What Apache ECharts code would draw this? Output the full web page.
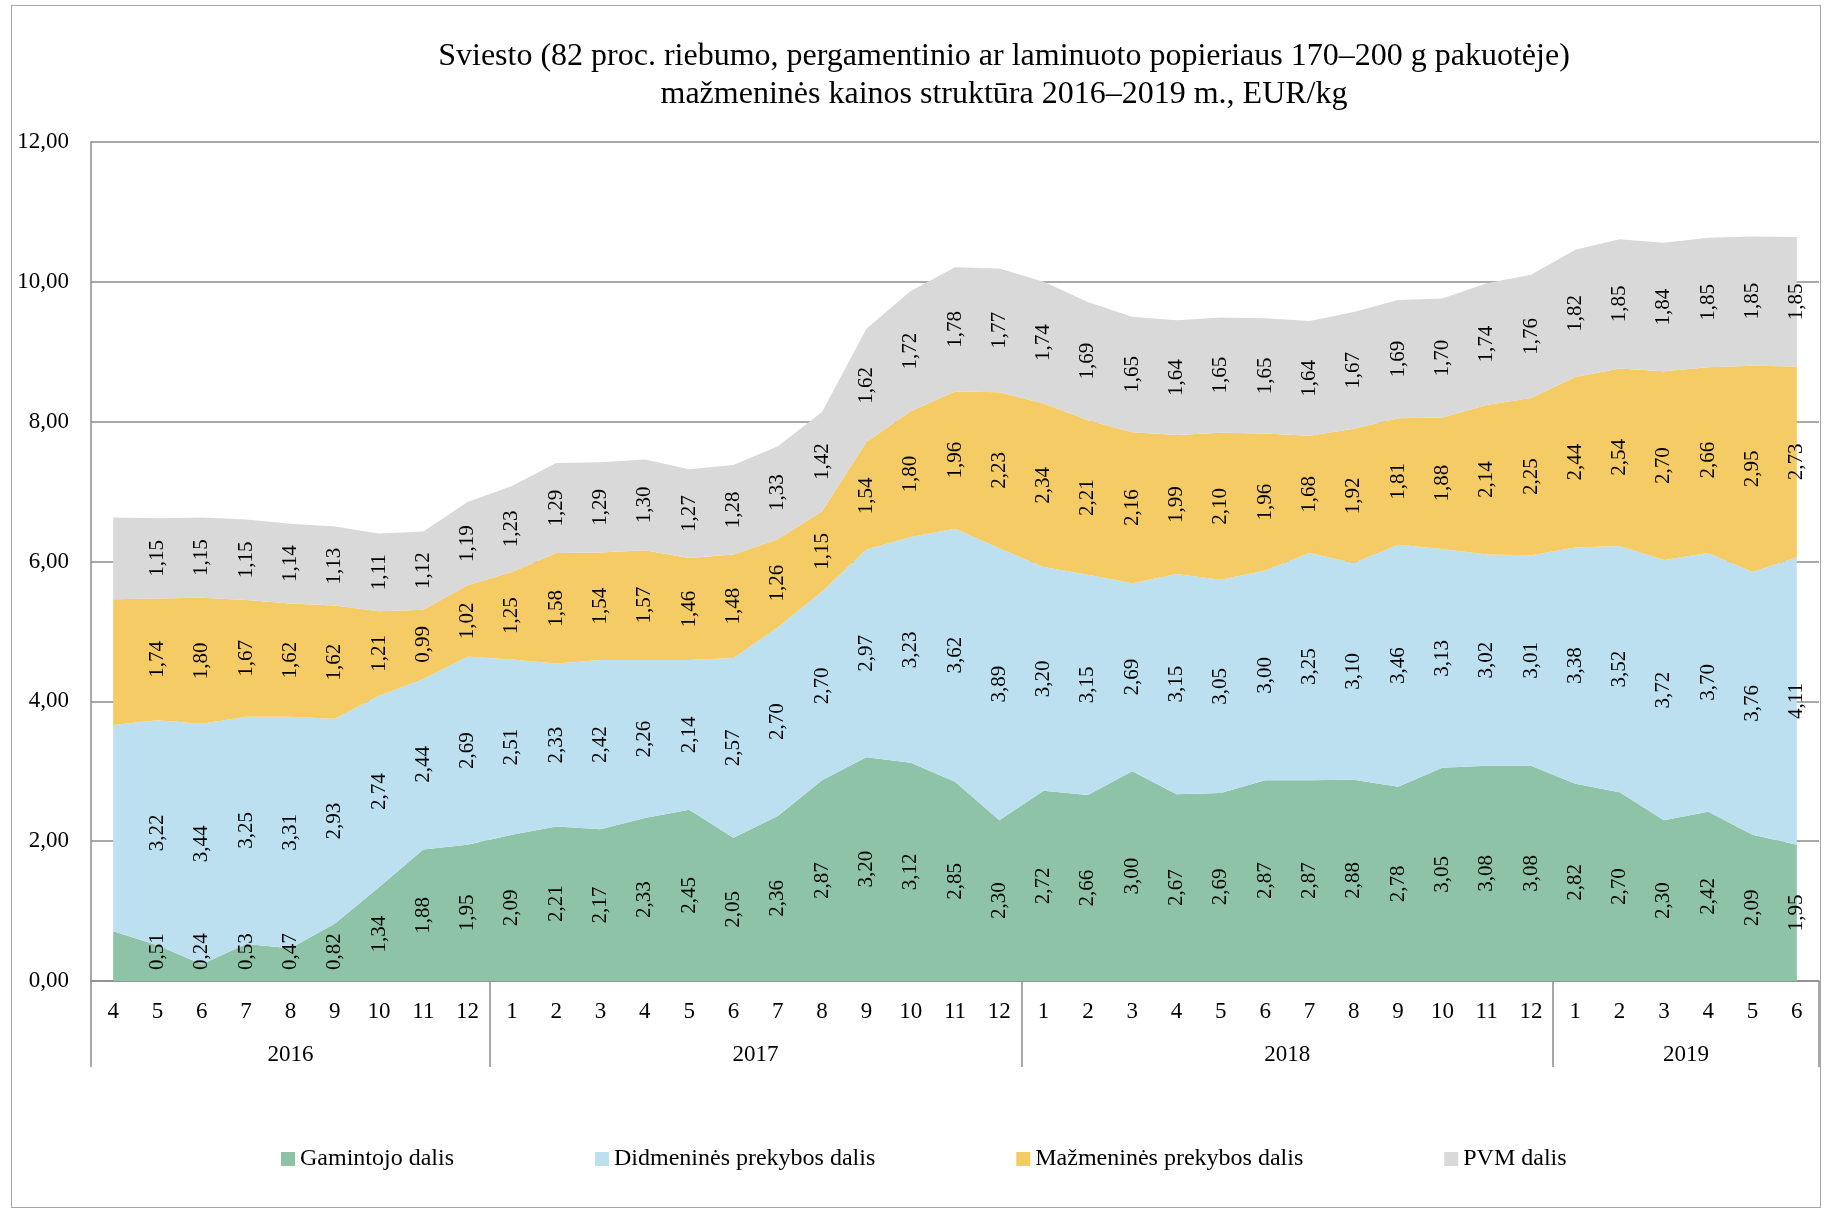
<!DOCTYPE html>
<html>
<head>
<meta charset="utf-8">
<title>Sviesto kainos struktūra</title>
<script src="https://cdn.jsdelivr.net/npm/echarts@6/dist/echarts.min.js"></script>
<style>
  html, body { margin: 0; padding: 0; background: #fff; }
  #chart { width: 1825px; height: 1208px; }
  .frame {
    position: absolute; left: 11px; top: 5px;
    width: 1808px; height: 1201px;
    border: 1px solid #a6a6a6; pointer-events: none;
  }
</style>
</head>
<body>
<div id="chart"></div>
<div class="frame"></div>
<script>
// metai ir jų mėnesiai (ašies žymės)
const years = ['2016', '2017', '2018', '2019'];
const monthsByYear = [
  ['4', '5', '6', '7', '8', '9', '10', '11', '12'],
  ['1', '2', '3', '4', '5', '6', '7', '8', '9', '10', '11', '12'],
  ['1', '2', '3', '4', '5', '6', '7', '8', '9', '10', '11', '12'],
  ['1', '2', '3', '4', '5', '6']
];

const seriesNames = ['Gamintojo dalis', 'Didmeninės prekybos dalis', 'Mažmeninės prekybos dalis', 'PVM dalis'];
const colors = ['#8EC3A7', '#BDE0F0', '#F5CB65', '#D9D9D9'];

// EUR/kg
const gamintojo = [
  0.71, 0.51, 0.24, 0.53, 0.47, 0.82, 1.34, 1.88, 1.95,
  2.09, 2.21, 2.17, 2.33, 2.45, 2.05, 2.36, 2.87, 3.20, 3.12, 2.85, 2.30,
  2.72, 2.66, 3.00, 2.67, 2.69, 2.87, 2.87, 2.88, 2.78, 3.05, 3.08, 3.08,
  2.82, 2.70, 2.30, 2.42, 2.09, 1.95
];
const didmenine = [
  2.95, 3.22, 3.44, 3.25, 3.31, 2.93, 2.74, 2.44, 2.69,
  2.51, 2.33, 2.42, 2.26, 2.14, 2.57, 2.70, 2.70, 2.97, 3.23, 3.62, 3.89,
  3.20, 3.15, 2.69, 3.15, 3.05, 3.00, 3.25, 3.10, 3.46, 3.13, 3.02, 3.01,
  3.38, 3.52, 3.72, 3.70, 3.76, 4.11
];
const mazmenine = [
  1.80, 1.74, 1.80, 1.67, 1.62, 1.62, 1.21, 0.99, 1.02,
  1.25, 1.58, 1.54, 1.57, 1.46, 1.48, 1.26, 1.15, 1.54, 1.80, 1.96, 2.23,
  2.34, 2.21, 2.16, 1.99, 2.10, 1.96, 1.68, 1.92, 1.81, 1.88, 2.14, 2.25,
  2.44, 2.54, 2.70, 2.66, 2.95, 2.73
];
const pvm = [
  1.17, 1.15, 1.15, 1.15, 1.14, 1.13, 1.11, 1.12, 1.19,
  1.23, 1.29, 1.29, 1.30, 1.27, 1.28, 1.33, 1.42, 1.62, 1.72, 1.78, 1.77,
  1.74, 1.69, 1.65, 1.64, 1.65, 1.65, 1.64, 1.67, 1.69, 1.70, 1.74, 1.76,
  1.82, 1.85, 1.84, 1.85, 1.85, 1.85
];

const months = [].concat(...monthsByYear);
const layers = [gamintojo, didmenine, mazmenine, pvm];
const font = "'Liberation Serif', 'Times New Roman', serif";
const axisColor = '#8c8c8c';

// antra ašis: pusmėnesio žingsnis, kad metų žymė būtų grupės viduryje
const yearSlots = new Array(months.length * 2 + 1).fill('');
const yearBounds = new Set();
let start = 0;
monthsByYear.forEach((m, i) => {
  yearBounds.add(start);
  yearSlots[start + m.length] = years[i];
  start += m.length * 2;
});
yearBounds.add(start);

const fmt = v => v.toFixed(2).replace('.', ',');

const areaSeries = layers.map((vals, i) => ({
  name: seriesNames[i],
  type: 'line',
  stack: 'total',
  data: vals,
  symbol: 'none',
  lineStyle: { width: 0, opacity: 0 },
  areaStyle: { color: colors[i], opacity: 1 },
  itemStyle: { color: colors[i] },
  silent: true
}));

// reikšmių užrašai juostų viduryje
const labelSeries = layers.map((vals, li) => ({
  name: 'lbl' + li,
  type: 'line',
  z: 10,
  silent: true,
  symbol: 'circle',
  symbolSize: 1,
  itemStyle: { color: 'transparent' },
  lineStyle: { opacity: 0, width: 0 },
  label: {
    show: true,
    position: 'inside',
    rotate: 90,
    color: '#000',
    fontFamily: font,
    fontSize: 21
  },
  data: vals.map((v, i) => {
    let base = 0;
    for (let k = 0; k < li; k++) base += layers[k][i];
    let mid = base + v / 2;
    if (li === 0) mid = Math.max(mid, 0.42);
    return { value: mid, label: { show: i > 0, formatter: fmt(v) } };
  })
}));

const legendText = { fontFamily: 'Liberation Serif', fontSize: 24, color: '#000' };

const myChart = echarts.init(document.getElementById('chart'));
const option = {
  animation: false,
  backgroundColor: '#fff',
  color: colors,
  textStyle: { fontFamily: font },
  title: {
    text: 'Sviesto (82 proc. riebumo, pergamentinio ar laminuoto popieriaus 170–200 g pakuotėje)\nmažmeninės kainos struktūra 2016–2019 m., EUR/kg',
    left: 999,
    top: 33,
    textAlign: 'center',
    textStyle: {
      fontFamily: font,
      fontSize: 32,
      fontWeight: 'normal',
      color: '#000',
      lineHeight: 38
    }
  },
  legend: {
    data: seriesNames.map(n => ({ name: n, textStyle: legendText })),
    left: 276,
    top: 1142,
    icon: 'rect',
    itemWidth: 14,
    itemHeight: 14,
    itemGap: 141,
    textStyle: legendText
  },
  grid: { left: 91, right: 6, top: 142, bottom: 227 },
  xAxis: [
    {
      type: 'category',
      data: months,
      boundaryGap: true,
      axisLine: { lineStyle: { color: axisColor, width: 1.5 } },
      axisTick: { show: false },
      axisLabel: { interval: 0, margin: 19, fontFamily: font, fontSize: 23, color: '#000' }
    },
    {
      type: 'category',
      data: yearSlots,
      boundaryGap: false,
      position: 'bottom',
      axisLine: { show: false },
      axisTick: {
        show: true,
        length: 86,
        interval: i => yearBounds.has(i),
        lineStyle: { color: axisColor, width: 1.5 }
      },
      axisLabel: { interval: 0, margin: 62, fontFamily: font, fontSize: 23, color: '#000' }
    }
  ],
  yAxis: {
    type: 'value',
    min: 0,
    max: 12,
    interval: 2,
    axisLine: { show: true, lineStyle: { color: axisColor, width: 1.5 } },
    axisTick: { show: false },
    splitLine: { lineStyle: { color: axisColor, width: 1.5 } },
    axisLabel: {
      margin: 22,
      fontFamily: font,
      fontSize: 23,
      color: '#000',
      formatter: v => fmt(v)
    }
  },
  series: areaSeries.concat(labelSeries)
};
myChart.setOption(option);
</script>
</body>
</html>
